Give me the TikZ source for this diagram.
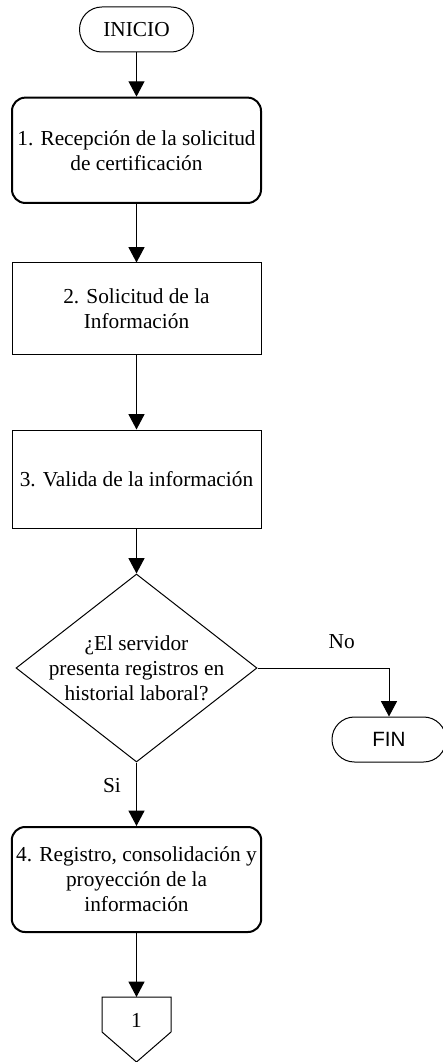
\documentclass[tikz,border=0pt]{standalone}
\usepackage{fontspec}
\setmainfont{Liberation Serif}
\newfontfamily\arialfont{Liberation Sans}
\usetikzlibrary{arrows.meta}
\usetikzlibrary{shapes}
\usetikzlibrary{positioning}

\begin{document}
\begin{tikzpicture}[x=0.75pt, y=-0.75pt]
        \tikzset{every node/.style={font=\fontsize{16}{18.75}\selectfont, align=center},
                >={Triangle[length=11.5pt, width=12pt]},
                terminal/.style={draw, line width=0.75pt, rounded corners=16.8pt,
                        minimum width=85.5pt, minimum height=33.75pt},
                process/.style={draw, line width=0.75pt, minimum width=186.75pt},
                activity/.style={process, line width=1.5pt, rounded corners=10pt},
                decision/.style={draw, diamond, line width=0.75pt, inner sep=0pt,
                        minimum width=180.75pt, minimum height=141pt},
                every edge/.style={draw=black, line width=0.75pt}}

        \useasboundingbox (0, 0) rectangle (442, 1062);

        \node[terminal] (0) at (136.5, 29.5) {INICIO};
        \node[activity, minimum height=79pt] (1) at (136.5, 150.3) {1. Recepción de la solicitud\\de certificación};
        \node[process, minimum height=68.25pt] (2) at (136.5, 308.5) {2. Solicitud de la\\Información};
        \node[process, minimum height=73.5pt] (3) at (136.5, 479) {3. Valida de la información};
        \node[decision, label={[name=3t]center:{¿El servidor\\presenta registros en\\historial laboral?}}] (q) at (136.5, 668) {};
        \node[terminal, font=\arialfont\fontsize{15.5}{17}\selectfont] (6) at (389, 739.5) {FIN};
        \node[activity, minimum height=78.75pt] (4) at (136.5, 879.5) {4. Registro, consolidación y\\proyección de la\\información};
        \node (5) at (136.5, 1020) {1};
        \coordinate (5t) at (136.5, 997);

        % conector fuera de pagina
        \draw[line width=0.75pt] (102, 997) -- (171, 997) -- (171, 1032) -- (136.5, 1062) -- (102, 1032) -- cycle;

        \path [->] (0) edge (1);
        \path [->] (1) edge (2);
        \path [->] (2) edge (3);
        \path [->] (3) edge (q);
        \draw [->, line width=0.75pt] (q.east) -| node[pos=0.32, above=11pt] {No} (6.north);
        \path [->] (q.south) edge node[pos=0.37, left=8pt] {Si} (4.north);
        \path [->] (4) edge (5t);

    \end{tikzpicture}
\end{document}
